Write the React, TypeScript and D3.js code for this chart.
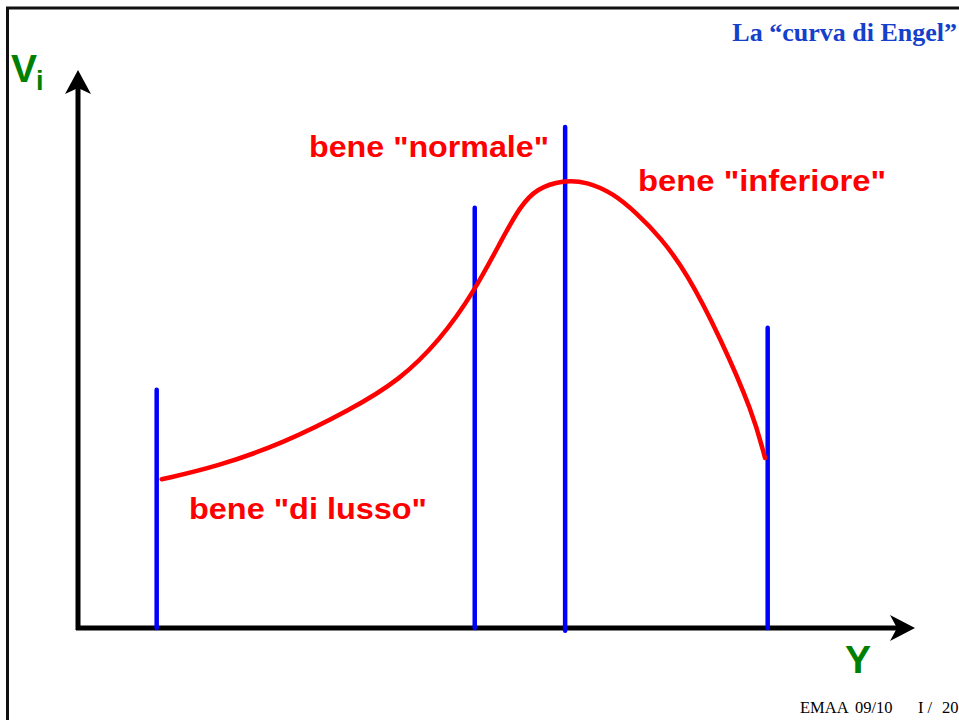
import React from "react";
import * as d3 from "d3";

// Engel curve (income Y on x, quantity V_i on y), abstract units 0..100
const curveY = [10.0, 16.57, 24.53, 32.5, 38.47, 43.25, 47.23, 50.81, 52.81, 54.8, 57.98, 60.78, 63.95, 66.75, 69.53, 72.76, 76.7, 80.65, 82.08];
const curveV = [26.65, 28.91, 33.1, 39.07, 44.44, 51.61, 59.98, 70.13, 75.5, 78.8, 80.29, 79.98, 77.9, 74.32, 70.13, 63.62, 52.15, 38.53, 30.47];

// vertical separators
const sepY = [9.4, 47.4, 58.2, 82.4];
const sepTop = [42.7, 75.3, 89.8, 53.8];
const sepBottom = [0, 0, -0.5, 0];

const labels = ["bene \"normale\"", "bene \"di lusso\"", "bene \"inferiore\""];

const W = 959;
const H = 720;

export default function App() {
  const x = d3.scaleLinear().domain([0, 100]).range([78, 915]);
  const y = d3.scaleLinear().domain([0, 100]).range([628, 70]);

  const pts: [number, number][] = curveY.map((v, i) => [v, curveV[i]]);
  const line = d3
    .line<[number, number]>()
    .x((d) => x(d[0]))
    .y((d) => y(d[1]))
    .curve(d3.curveBasis);

  const x0 = x(0);
  const y0 = y(0);
  const xEnd = x(100);
  const yEnd = y(100);

  return (
    <svg
      width={W}
      height={H}
      style={{ position: "absolute", left: 0, top: 0, display: "block", background: "#fff" }}
    >
      {/* frame */}
      <rect x={7.5} y={8} width={1000} height={800} fill="none" stroke="#111" strokeWidth={3} />

      {/* title */}
      <text
        x={957}
        y={41}
        textAnchor="end"
        fontFamily="'Liberation Serif', 'Times New Roman', serif"
        fontWeight="bold"
        fontSize={26}
        fill="#1440cc"
      >
        La “curva di Engel”
      </text>

      {/* axes */}
      <line x1={x0} y1={y0 + 2} x2={x0} y2={yEnd + 18} stroke="#000" strokeWidth={5} />
      <path
        d={`M${x0},${yEnd} L${x0 + 13},${yEnd + 24} L${x0},${yEnd + 18} L${x0 - 13},${yEnd + 24} Z`}
        fill="#000"
      />
      <line x1={x0 - 2} y1={y0} x2={xEnd - 18} y2={y0} stroke="#000" strokeWidth={5} />
      <path
        d={`M${xEnd},${y0} L${xEnd - 25},${y0 - 13} L${xEnd - 18},${y0} L${xEnd - 25},${y0 + 13} Z`}
        fill="#000"
      />

      {/* vertical separators */}
      {sepY.map((v, i) => (
        <line
          key={i}
          x1={x(v)}
          x2={x(v)}
          y1={y(sepTop[i])}
          y2={y(sepBottom[i])}
          stroke="#0000ff"
          strokeWidth={4.5}
          strokeLinecap="round"
        />
      ))}

      {/* Engel curve */}
      <path d={line(pts) || ""} fill="none" stroke="#ff0000" strokeWidth={4.5} strokeLinecap="round" />

      {/* labels */}
      <g fontFamily="'Liberation Sans', Arial, sans-serif" fontWeight="bold" fontSize={30} fill="#ff0000">
        <text x={309} y={157} textLength={240} lengthAdjust="spacingAndGlyphs">{labels[0]}</text>
        <text x={189} y={519} textLength={238} lengthAdjust="spacingAndGlyphs">{labels[1]}</text>
        <text x={638} y={191} textLength={248} lengthAdjust="spacingAndGlyphs">{labels[2]}</text>
      </g>

      {/* axis labels */}
      <g fontFamily="'Liberation Sans', Arial, sans-serif" fontWeight="bold" fill="#008000">
        <text x={11} y={82} fontSize={39}>V</text>
        <text x={36} y={90} fontSize={27}>i</text>
        <text x={845} y={673} fontSize={39}>Y</text>
      </g>

      {/* footer */}
      <g fontFamily="'Liberation Serif', 'Times New Roman', serif" fontSize={16.5} fill="#000">
        <text x={800} y={713}>EMAA</text>
        <text x={855} y={713}>09/10</text>
        <text x={918} y={713}>I /</text>
        <text x={942} y={713}>20</text>
      </g>
    </svg>
  );
}
